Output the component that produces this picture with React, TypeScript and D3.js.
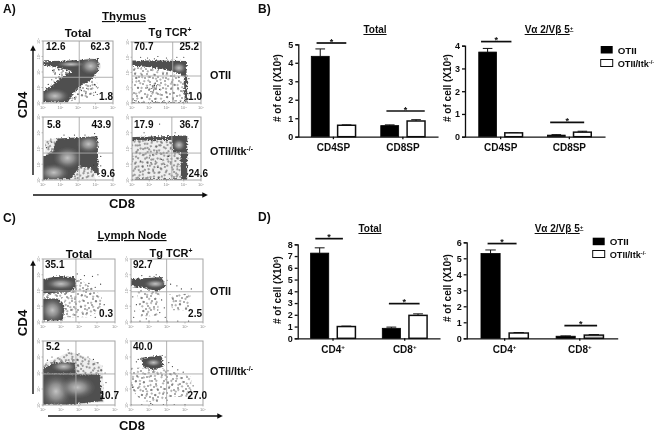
// App.tsx - flow plots and bar charts for the thymus / lymph node figure
import React, { useEffect, useRef } from 'react';
import * as d3 from 'd3';

const FONT = '"Liberation Sans", Arial, sans-serif';

type Pt = [number, number];

// bar chart values
const thymusCategories = ['CD4SP', 'CD8SP'];
const nodeCategories = ['CD4+', 'CD8+'];
const seriesNames = ['OTII', 'OTII/Itk-/-'];

const thymusTotalOtii = [4.35, 0.6];
const thymusTotalOtiiTop = [4.75, 0.64];
const thymusTotalItk = [0.62, 0.85];
const thymusTotalItkTop = [0.64, 0.92];
const thymusTotalTicks = [0, 1, 2, 3, 4, 5];
const thymusTotalSig = [5.07, 1.39];

const thymusTgOtii = [3.72, 0.07];
const thymusTgOtiiTop = [3.88, 0.09];
const thymusTgItk = [0.17, 0.2];
const thymusTgItkTop = [0.18, 0.24];
const thymusTgTicks = [0, 1, 2, 3, 4];
const thymusTgSig = [4.18, 0.63];

const nodeTotalOtii = [7.25, 0.85];
const nodeTotalOtiiTop = [7.7, 0.95];
const nodeTotalItk = [1.0, 1.95];
const nodeTotalItkTop = [1.04, 2.08];
const nodeTotalTicks = [0, 1, 2, 3, 4, 5, 6, 7, 8];
const nodeTotalSig = [8.48, 2.95];

const nodeTgOtii = [5.3, 0.13];
const nodeTgOtiiTop = [5.52, 0.15];
const nodeTgItk = [0.33, 0.2];
const nodeTgItkTop = [0.36, 0.23];
const nodeTgTicks = [0, 1, 2, 3, 4, 5, 6];
const nodeTgSig = [5.92, 0.79];

// flow plots: everything below is in decades (0-4 = 10^0..10^4), [CD8, CD4]
const decades = [0, 1, 2, 3, 4];

const a1Dense: Pt[][] = [
  [[-0.3, 2.67], [1.5, 2.75], [3.2, 2.85], [3.13, 2.03], [2.74, 1.5], [2.26, 1.18], [1.79, 0.75], [1.42, 0.05], [-0.3, 0.05], [-0.3, 0.5], [0.57, 1.18], [1.13, 1.71], [1.66, 2.07], [0.75, 2.3], [-0.3, 2.5]],
];
const a1Speckle: Pt[][] = [[[0.5, 2.3], [1.7, 2.1], [1.2, 1.7], [0.6, 1.3]], [[1.5, 0.8], [2.3, 1.2], [3.0, 1.6], [3.2, 1.0], [2.6, 0.3], [1.5, 0.1]]];
const a1Hot = [[2.72, 2.38, 0.62, 0.55], [0.68, 0.45, 0.78, 0.48], [1.6, 2.5, 0.8, 0.2]];
const a1Dots: Pt[] = [[0.9, 2.15], [1.1, 2.2], [1.35, 2.1], [0.7, 1.95], [0.95, 1.85], [1.3, 1.95], [1.5, 2.0], [2.95, 1.2], [3.05, 1.05], [2.7, 1.1], [2.5, 0.95], [2.2, 0.8], [2.0, 0.55], [1.8, 0.35], [3.0, 0.7], [3.1, 0.55], [2.9, 0.5], [0.5, 1.5], [0.3, 1.2], [0.2, 0.95], [0.55, 2.1], [2.45, 0.6], [1.6, 0.45]];

const a2Dense: Pt[][] = [
  [[-0.3, 2.78], [1.6, 2.78], [3.19, 2.75], [3.15, 1.65], [2.7, 1.93], [2.03, 2.14], [1.06, 2.35], [-0.3, 2.5]],
  [[3.0, 1.7], [3.2, 1.7], [3.2, 0.1], [3.06, 0.1]],
  [[0, 0.02], [3.2, 0.02], [3.2, 0.07], [0, 0.07]],
];
const a2Speckle: Pt[][] = [[[0, 2.4], [1.1, 2.25], [2.1, 2.05], [3.0, 1.6], [3.1, 0.1], [0, 0.1]]];
const a2Hot = [[2.72, 2.3, 0.42, 0.36]];
const a2Dots: Pt[] = [[1.2, 1.05], [1.3, 1.15], [1.15, 0.95], [1.4, 1.0], [1.25, 0.85], [1.05, 1.2], [1.35, 1.3], [1.5, 1.2], [0.9, 1.0], [1.1, 0.75], [1.6, 0.9], [1.28, 1.0], [1.18, 1.12], [1.42, 1.12], [0.5, 3.0], [1.5, 3.05], [2.0, 2.95], [2.6, 3.0], [3.0, 3.0], [0.9, 2.95], [1.3, 2.9], [3.3, 1.6], [3.35, 0.7]];

const a3Dense: Pt[][] = [
  [[0.85, 2.63], [3.1, 2.78], [3.2, 0.2], [2.74, 0.75], [2.08, 0.85], [1.6, 0.05], [-0.3, 0.05], [-0.3, 1.3], [0.57, 1.82], [0.66, 2.25]],
];
const a3Speckle: Pt[][] = [[[0.1, 2.5], [0.9, 2.7], [0.9, 1.9], [0.2, 1.2]], [[1.6, 0.9], [2.8, 0.9], [3.0, 0.05], [1.5, 0.05]]];
const a3Hot = [[2.6, 2.28, 0.66, 0.55], [0.62, 0.47, 0.85, 0.55], [1.4, 1.4, 0.8, 0.7]];
const a3Dots: Pt[] = [[0.3, 2.3], [0.5, 2.4], [0.2, 2.05], [0.45, 2.6], [1.2, 2.85], [1.8, 2.85], [2.4, 2.85], [2.95, 2.95], [3.3, 1.5], [3.3, 0.9], [3.35, 0.3], [2.9, 0.95]];

const a4Dense: Pt[][] = [
  [[-0.3, 2.72], [3.2, 2.82], [3.2, 2.55], [-0.3, 2.5]],
  [[2.3, 2.65], [3.2, 2.7], [3.2, 1.7], [2.4, 1.75]],
  [[2.8, 1.75], [3.2, 1.75], [3.2, 0.05], [2.85, 0.05]],
  [[0, 0.02], [3.2, 0.02], [3.2, 0.07], [0, 0.07]],
];
const a4Speckle: Pt[][] = [[[0, 2.6], [3.2, 2.6], [3.2, 0.05], [0, 0.05]]];
const a4Hot = [[2.72, 2.22, 0.38, 0.38]];
const a4Dots: Pt[] = [[1.0, 1.4], [1.2, 1.6], [1.35, 1.2], [0.9, 0.9], [1.1, 1.1], [1.5, 0.8], [1.7, 1.3], [0.7, 1.6], [0.5, 1.2], [1.9, 1.0], [2.1, 1.5], [1.45, 1.75], [1.6, 3.55], [2.5, 3.0], [0.7, 3.0]];

const c1Dense: Pt[][] = [
  [[-0.3, 2.68], [0.85, 2.9], [1.75, 2.85], [1.85, 2.25], [1.55, 1.9], [-0.3, 1.8]],
  [[-0.3, 1.5], [0.85, 1.5], [1.2, 0.95], [1.1, 0.1], [-0.3, 0.1]],
];
const c1Speckle: Pt[][] = [[[1.5, 2.9], [2.2, 2.6], [3.25, 1.7], [3.3, 0.8], [2.5, 0.3], [1.1, 0.3], [1.2, 1.5]], [[0, 1.9], [1.5, 1.9], [1.0, 1.45], [0, 1.45]]];
const c1Hot = [[1.0, 2.42, 0.82, 0.36], [0.52, 0.75, 0.65, 0.78]];
const c1Dots: Pt[] = [[2.3, 2.95], [2.75, 2.9], [3.05, 3.0], [2.55, 2.45], [2.1, 2.7], [2.9, 2.2], [2.4, 2.05], [1.9, 3.05], [3.2, 2.4], [3.4, 1.1], [2.9, 0.3]];

const c2Dense: Pt[][] = [[[-0.3, 2.7], [1.7, 2.85], [1.9, 2.25], [1.5, 1.95], [0.75, 2.15], [-0.3, 2.35]]];
const c2Speckle: Pt[][] = [[[0.3, 2.1], [1.6, 2.05], [1.5, 0.4], [0.55, 0.35]], [[2.1, 1.75], [3.3, 1.8], [3.3, 0.75], [2.3, 0.75]]];
const c2Hot = [[1.35, 2.42, 0.62, 0.28]];
const c2Dots: Pt[] = [[0.1, 1.6], [0.3, 1.1], [0.2, 0.7], [0.15, 0.3], [1.7, 1.4], [1.85, 0.9], [1.6, 0.6], [2.2, 2.4], [2.55, 2.3], [2.0, 2.65], [2.8, 2.1], [3.35, 2.1], [1.05, 2.9], [0.6, 2.95], [1.4, 3.0], [1.9, 0.3], [0.85, 0.2], [0, 0.05], [0.5, 0.05], [1.0, 0.05], [1.5, 0.05], [2.0, 0.05], [2.6, 0.05], [3.2, 0.05]];

const c3Dense: Pt[][] = [
  [[0.55, 2.65], [1.75, 2.65], [1.85, 1.95], [-0.3, 1.95]],
  [[-0.3, 1.95], [3.15, 1.9], [3.3, 0.25], [1.4, 0.02], [-0.3, 0.02]],
];
const c3Speckle: Pt[][] = [[[0, 2.55], [1.5, 3.35], [2.6, 2.9], [3.3, 2.45], [3.4, 0.15], [1.0, 0.05], [0, 0.05]]];
const c3Hot = [[0.72, 0.85, 0.85, 1.05], [1.15, 2.4, 0.7, 0.34], [1.9, 1.1, 1.0, 0.7]];
const c3Dots: Pt[] = [[2.0, 3.2], [1.4, 3.45], [2.5, 3.0], [3.05, 2.65], [3.45, 2.0], [3.5, 1.4], [0.25, 2.8], [0.5, 3.0], [2.8, 2.85]];

const c4Dense: Pt[][] = [[[0.55, 2.95], [1.7, 3.1], [1.8, 2.4], [1.3, 2.2], [0.7, 2.35]]];
const c4Speckle: Pt[][] = [[[0, 2.35], [1.75, 2.3], [3.35, 1.75], [3.35, 0.5], [2.2, 0.5], [1.4, 0.15], [0.6, 0.25], [0, 1.0]]];
const c4Hot = [[1.25, 2.65, 0.45, 0.25]];
const c4Dots: Pt[] = [[0.3, 2.7], [0.4, 2.85], [2.1, 2.65], [2.3, 2.4], [2.6, 2.2], [2.9, 2.05], [1.9, 3.0], [0.1, 1.1], [3.45, 1.2], [1.1, 0.1], [2.0, 0.3], [0, 0.03], [0.6, 0.03], [1.2, 0.03], [1.8, 0.03], [2.4, 0.03], [3.0, 0.03]];

// texture tile for the speckled (not quite solid) areas, hand placed so it does not read as a grid
const speckleTile: Pt[] = [
  [1, 3], [5, 1], [8, 6], [12, 2], [15, 5], [19, 1], [23, 4], [26, 8], [30, 2], [34, 6], [37, 1],
  [3, 8], [6, 12], [11, 9], [14, 13], [18, 8], [21, 11], [25, 14], [29, 10], [33, 12], [36, 9],
  [2, 15], [7, 17], [10, 14], [13, 19], [17, 16], [22, 18], [27, 17], [31, 16], [35, 19], [38, 14],
  [4, 21], [8, 23], [12, 25], [16, 21], [20, 24], [24, 22], [28, 26], [32, 21], [36, 24],
  [1, 27], [5, 29], [9, 28], [14, 30], [18, 28], [23, 31], [26, 29], [31, 30], [34, 27], [38, 30],
  [3, 34], [7, 33], [11, 36], [15, 34], [19, 37], [22, 35], [27, 34], [30, 37], [35, 35], [38, 37],
  [6, 38], [16, 38], [25, 38], [33, 38],
];

type Panel = {
  box: [number, number, number, number];
  gate: Pt;
  dense?: Pt[][];
  speckle?: Pt[][];
  heavy?: boolean;
  hot: number[][];
  dots: Pt[];
  labels: [string, number, number, string][];
};

const panels: Panel[] = [
  { box: [43, 41, 113, 103], gate: [2.07, 1.66], dense: a1Dense, speckle: a1Speckle, hot: a1Hot, dots: a1Dots,
    labels: [['12.6', 46, 50, 'start'], ['62.3', 110, 50, 'end'], ['1.8', 113, 100, 'end']] },
  { box: [132, 42, 201, 103], gate: [2.36, 1.77], dense: a2Dense, speckle: a2Speckle, hot: a2Hot, dots: a2Dots,
    labels: [['70.7', 134, 50, 'start'], ['25.2', 199, 50, 'end'], ['1.0', 202, 100, 'end']] },
  { box: [43, 117, 113, 180], gate: [2.07, 1.71], dense: a3Dense, speckle: a3Speckle, heavy: true, hot: a3Hot, dots: a3Dots,
    labels: [['5.8', 47, 128, 'start'], ['43.9', 111, 128, 'end'], ['9.6', 115, 177, 'end']] },
  { box: [132, 117, 201, 180], gate: [2.31, 1.71], dense: a4Dense, speckle: a4Speckle, heavy: true, hot: a4Hot, dots: a4Dots,
    labels: [['17.9', 134, 128, 'start'], ['36.7', 199, 128, 'end'], ['24.6', 208, 177, 'end']] },
  { box: [43, 259, 115, 322], gate: [1.83, 1.97], dense: c1Dense, speckle: c1Speckle, hot: c1Hot, dots: c1Dots,
    labels: [['35.1', 45, 268, 'start'], ['0.3', 113, 317, 'end']] },
  { box: [131, 259, 203, 322], gate: [1.98, 1.92], dense: c2Dense, speckle: c2Speckle, hot: c2Hot, dots: c2Dots,
    labels: [['92.7', 133, 268, 'start'], ['2.5', 202, 317, 'end']] },
  { box: [43, 341, 115, 405], gate: [1.83, 1.94], dense: c3Dense, speckle: c3Speckle, heavy: true, hot: c3Hot, dots: c3Dots,
    labels: [['5.2', 46, 350, 'start'], ['10.7', 119, 399, 'end']] },
  { box: [131, 341, 203, 405], gate: [1.98, 1.94], dense: c4Dense, speckle: c4Speckle, hot: c4Hot, dots: c4Dots,
    labels: [['40.0', 133, 350, 'start'], ['27.0', 207, 399, 'end']] },
];

type BarChart = {
  x0: number; x1: number; y0: number; y1: number; yMax: number;
  pad: [number, number];
  categories: string[];
  otii: number[]; otiiTop: number[]; itk: number[]; itkTop: number[];
  ticks: number[]; sig: number[]; sigSpan: number[][]; itkFill: string[];
};

const barCharts: BarChart[] = [
  { x0: 298.3, x1: 438, y0: 136.7, y1: 44.3, yMax: 5, pad: [0.363, 0.187], categories: thymusCategories,
    otii: thymusTotalOtii, otiiTop: thymusTotalOtiiTop, itk: thymusTotalItk, itkTop: thymusTotalItkTop,
    ticks: thymusTotalTicks, sig: thymusTotalSig, sigSpan: [[5.3, 35], [5.7, 44]], itkFill: ['#fff', '#fff'] },
  { x0: 465, x1: 605, y0: 136.7, y1: 45.7, yMax: 4, pad: [0.363, 0.2], categories: thymusCategories,
    otii: thymusTgOtii, otiiTop: thymusTgOtiiTop, itk: thymusTgItk, itkTop: thymusTgItkTop,
    ticks: thymusTgTicks, sig: thymusTgSig, sigSpan: [[2.3, 32.7], [2.7, 36.7]], itkFill: ['#fff', '#fff'] },
  { x0: 297.7, x1: 440, y0: 338.3, y1: 244.3, yMax: 8, pad: [0.375, 0.18], categories: nodeCategories,
    otii: nodeTotalOtii, otiiTop: nodeTotalOtiiTop, itk: nodeTotalItk, itkTop: nodeTotalItkTop,
    ticks: nodeTotalTicks, sig: nodeTotalSig, sigSpan: [[4.7, 32.3], [6.6, 37.3]], itkFill: ['#fff', '#fff'] },
  { x0: 466.7, x1: 617.7, y0: 338.3, y1: 242.3, yMax: 6, pad: [0.37, 0.19], categories: nodeCategories,
    otii: nodeTgOtii, otiiTop: nodeTgOtiiTop, itk: nodeTgItk, itkTop: nodeTgItkTop,
    ticks: nodeTgTicks, sig: nodeTgSig, sigSpan: [[6.6, 35.6], [8.3, 41]], itkFill: ['#fff', '#ccc'] },
];

// label with a trailing superscript, e.g. CD4 + or Itk -/-
function sup(sel: any, base: string, raised: string, size: number) {
  sel.append('tspan').text(base);
  sel.append('tspan').attr('dy', -size * 0.35).attr('font-size', size * 0.62).text(raised);
}

function drawPanel(root: any, p: Panel, i: number) {
  const [left, top, right, bottom] = p.box;
  const x = d3.scaleLinear().domain([0, 4]).range([left, right]);
  const y = d3.scaleLinear().domain([0, 4]).range([bottom, top]);
  const line = d3.line<Pt>().x(d => x(d[0])).y(d => y(d[1])).curve(d3.curveLinearClosed);

  const g = root.append('g');
  const clip = `panel-clip-${i}`;
  g.append('clipPath').attr('id', clip).append('rect')
    .attr('x', left).attr('y', top).attr('width', right - left).attr('height', bottom - top);
  const inner = g.append('g').attr('clip-path', `url(#${clip})`);

  // a grey wash under the heavy areas, then the speckle twice at different angles
  const speckle = p.speckle || [];
  if (p.heavy) {
    inner.selectAll('.wash').data(speckle).join('path')
      .attr('class', 'wash').attr('d', (d: Pt[]) => line(d)).attr('fill', '#bdbdbd').attr('opacity', 0.25);
  }
  ['speckle-a', 'speckle-b'].forEach(id => {
    inner.selectAll(`.${id}`).data(speckle).join('path')
      .attr('class', id).attr('d', (d: Pt[]) => line(d)).attr('fill', `url(#${id}${p.heavy ? '-heavy' : ''})`);
  });
  inner.selectAll('.dense').data(p.dense || []).join('path')
    .attr('class', 'dense').attr('d', (d: Pt[]) => line(d)).attr('fill', '#505050').attr('filter', 'url(#rough)');
  inner.selectAll('.hot').data(p.hot).join('ellipse')
    .attr('class', 'hot')
    .attr('cx', (d: number[]) => x(d[0])).attr('cy', (d: number[]) => y(d[1]))
    .attr('rx', (d: number[]) => x(d[2]) - x(0)).attr('ry', (d: number[]) => y(0) - y(d[3]))
    .attr('fill', 'url(#hot)');
  inner.selectAll('.dot').data(p.dots).join('circle')
    .attr('class', 'dot')
    .attr('cx', (d: Pt) => x(d[0])).attr('cy', (d: Pt) => y(d[1]))
    .attr('r', 0.6).attr('fill', '#333');

  // quadrant gates and frame
  g.append('line').attr('x1', x(p.gate[0])).attr('x2', x(p.gate[0])).attr('y1', top).attr('y2', bottom)
    .attr('stroke', '#a8a8a8').attr('stroke-width', 0.9);
  g.append('line').attr('x1', left).attr('x2', right).attr('y1', y(p.gate[1])).attr('y2', y(p.gate[1]))
    .attr('stroke', '#a8a8a8').attr('stroke-width', 0.9);
  g.append('rect').attr('x', left).attr('y', top).attr('width', right - left).attr('height', bottom - top)
    .attr('fill', 'none').attr('stroke', '#a3a3a3').attr('stroke-width', 1);

  // log decades on both sides
  const tiny = g.append('g').attr('fill', '#8c8c8c').attr('font-size', 4).attr('font-family', FONT);
  decades.forEach(d => {
    g.append('line').attr('x1', x(d)).attr('x2', x(d)).attr('y1', bottom).attr('y2', bottom + 1.5).attr('stroke', '#999').attr('stroke-width', 0.6);
    g.append('line').attr('x1', left - 1.5).attr('x2', left).attr('y1', y(d)).attr('y2', y(d)).attr('stroke', '#999').attr('stroke-width', 0.6);
    sup(tiny.append('text').attr('x', x(d)).attr('y', bottom + 6).attr('text-anchor', 'middle'), '10', String(d), 4);
    sup(tiny.append('text').attr('transform', `translate(${left - 3},${y(d)}) rotate(-90)`).attr('text-anchor', 'middle'), '10', String(d), 4);
  });

  g.selectAll('.pct').data(p.labels).join('text')
    .attr('class', 'pct')
    .attr('x', (d: any) => d[1]).attr('y', (d: any) => d[2]).attr('text-anchor', (d: any) => d[3])
    .attr('font-size', 10).attr('font-weight', 700).attr('font-family', FONT).attr('fill', '#111')
    .text((d: any) => d[0]);
}

function drawBars(root: any, c: BarChart) {
  const x = d3.scaleBand<string>().domain(c.categories).range([c.x0, c.x1])
    .paddingInner(c.pad[0]).paddingOuter(c.pad[1]);
  const inner = d3.scaleBand<string>().domain(seriesNames).range([0, x.bandwidth()]).paddingInner(0.32);
  const y = d3.scaleLinear().domain([0, c.yMax]).range([c.y0, c.y1]);
  const g = root.append('g');

  c.categories.forEach((cat, i) => {
    const bx0 = x(cat)! + inner(seriesNames[0])!;
    const bx1 = x(cat)! + inner(seriesNames[1])!;
    const w = inner.bandwidth();
    const whisker = (cx: number, a: number, b: number) => {
      g.append('line').attr('x1', cx).attr('x2', cx).attr('y1', y(a)).attr('y2', y(b)).attr('stroke', '#111').attr('stroke-width', 1);
      g.append('line').attr('x1', cx - w * 0.27).attr('x2', cx + w * 0.27).attr('y1', y(b)).attr('y2', y(b)).attr('stroke', '#111').attr('stroke-width', 1);
    };
    whisker(bx0 + w / 2, c.otii[i], c.otiiTop[i]);
    whisker(bx1 + w / 2, c.itk[i], c.itkTop[i]);
    g.append('rect').attr('x', bx0).attr('y', y(c.otii[i])).attr('width', w).attr('height', c.y0 - y(c.otii[i]))
      .attr('fill', '#000').attr('stroke', '#000').attr('stroke-width', 0.8);
    g.append('rect').attr('x', bx1).attr('y', y(c.itk[i])).attr('width', w).attr('height', c.y0 - y(c.itk[i]))
      .attr('fill', c.itkFill[i]).attr('stroke', '#111').attr('stroke-width', 1.5);

    // significance bar spans the pair, star sits on it
    const sx0 = x(cat)! + c.sigSpan[i][0];
    const sx1 = x(cat)! + c.sigSpan[i][1];
    g.append('line').attr('x1', sx0).attr('x2', sx1).attr('y1', y(c.sig[i])).attr('y2', y(c.sig[i]))
      .attr('stroke', '#111').attr('stroke-width', 1.7);
    g.append('text').attr('x', (sx0 + sx1) / 2).attr('y', y(c.sig[i]) + 1.5).attr('text-anchor', 'middle')
      .attr('font-size', 9).attr('font-weight', 700).attr('font-family', FONT).attr('fill', '#111').text('*');
  });

  const yAxis = g.append('g').attr('transform', `translate(${c.x0},0)`)
    .call(d3.axisLeft(y).tickValues(c.ticks).tickSize(3).tickPadding(2).tickFormat(d3.format('d') as any));
  const xAxis = g.append('g').attr('transform', `translate(0,${c.y0})`)
    .call(d3.axisBottom(x).tickSize(2.5).tickSizeOuter(0).tickPadding(5).tickFormat(() => ''));
  [yAxis, xAxis].forEach(a => {
    a.selectAll('path, line').attr('stroke', '#111').attr('stroke-width', 1.3);
  });
  yAxis.selectAll('text').attr('font-size', 9).attr('font-weight', 700).attr('font-family', FONT).attr('fill', '#111');

  xAxis.selectAll('.tick text').each(function (this: any, d: any) {
    const t = d3.select(this).attr('font-size', 10).attr('font-weight', 700).attr('font-family', FONT).attr('fill', '#111');
    if (String(d).endsWith('+')) sup(t, String(d).slice(0, -1), '+', 10);
    else t.text(String(d));
  });
}

function title(root: any, text: string, x: number, y: number, size: number, underline = true) {
  return root.append('text').attr('x', x).attr('y', y).attr('text-anchor', 'middle')
    .attr('font-size', size).attr('font-weight', 700).attr('font-family', FONT).attr('fill', '#111')
    .attr('text-decoration', underline ? 'underline' : 'none').text(text);
}

function plain(root: any, x: number, y: number, size: number, anchor = 'start') {
  return root.append('text').attr('x', x).attr('y', y).attr('text-anchor', anchor)
    .attr('font-size', size).attr('font-weight', 700).attr('font-family', FONT).attr('fill', '#111');
}

function rotated(root: any, text: string, x: number, y: number, size: number) {
  return root.append('text').attr('transform', `translate(${x},${y}) rotate(-90)`).attr('text-anchor', 'middle')
    .attr('font-size', size).attr('font-weight', 700).attr('font-family', FONT).attr('fill', '#111').text(text);
}

function arrow(root: any, x1: number, y1: number, x2: number, y2: number) {
  root.append('line').attr('x1', x1).attr('y1', y1).attr('x2', x2).attr('y2', y2)
    .attr('stroke', '#111').attr('stroke-width', 1.4).attr('marker-end', 'url(#head)');
}

function legend(root: any, x: number, yTop: number, yBottom: number) {
  root.append('rect').attr('x', x).attr('y', yTop).attr('width', 12).attr('height', 7.5).attr('fill', '#000');
  root.append('rect').attr('x', x).attr('y', yBottom).attr('width', 12).attr('height', 7).attr('fill', '#fff').attr('stroke', '#111').attr('stroke-width', 1);
  plain(root, x + 17, yTop + 7.5, 9.8).text(seriesNames[0]);
  sup(plain(root, x + 17, yBottom + 7.5, 9.2), 'OTII/Itk', '-/-', 9.2);
}

function vaLabel(root: any, x: number, y: number, size: number) {
  const t = root.append('text').attr('x', x).attr('y', y).attr('text-anchor', 'middle')
    .attr('font-size', size).attr('font-weight', 700).attr('font-family', FONT).attr('fill', '#111')
    .attr('text-decoration', 'underline');
  t.append('tspan').text('V\u03b1 2/V\u03b2 5');
  t.append('tspan').attr('dy', -3).attr('font-size', size * 0.62).text('+');
}

function drawAll(svgEl: SVGSVGElement) {
  const root = d3.select(svgEl);
  root.selectAll('*').remove();

  const defs = root.append('defs');
  // grainy edge for the solid cell clouds; page-wide region so thin strips survive
  const rough = defs.append('filter').attr('id', 'rough').attr('filterUnits', 'userSpaceOnUse')
    .attr('x', 0).attr('y', 0).attr('width', 662).attr('height', 434)
    .attr('color-interpolation-filters', 'sRGB');
  rough.append('feTurbulence').attr('type', 'fractalNoise').attr('baseFrequency', 0.55).attr('numOctaves', 2).attr('seed', 4).attr('result', 'grain');
  rough.append('feDisplacementMap').attr('in', 'SourceGraphic').attr('in2', 'grain').attr('scale', 4.5)
    .attr('xChannelSelector', 'R').attr('yChannelSelector', 'G').attr('result', 'moved');
  rough.append('feGaussianBlur').attr('in', 'moved').attr('stdDeviation', 0.35);
  const blur = defs.append('filter').attr('id', 'photo').attr('x', 0).attr('y', 0).attr('width', '100%').attr('height', '100%');
  blur.append('feGaussianBlur').attr('stdDeviation', 0.45);

  const hot = defs.append('radialGradient').attr('id', 'hot');
  hot.append('stop').attr('offset', '0%').attr('stop-color', '#c4c4c4');
  hot.append('stop').attr('offset', '45%').attr('stop-color', '#9c9c9c').attr('stop-opacity', 0.8);
  hot.append('stop').attr('offset', '100%').attr('stop-color', '#6a6a6a').attr('stop-opacity', 0);

  const patterns: [string, number, string, string][] = [
    ['speckle-a', 0.72, '#333', 'rotate(0)'],
    ['speckle-b', 0.68, '#333', 'rotate(37) translate(11,6)'],
    ['speckle-a-heavy', 0.82, '#333', 'rotate(12)'],
    ['speckle-b-heavy', 0.82, '#333', 'rotate(61) translate(7,13)'],
  ];
  patterns.forEach(([id, r, fill, turn]) => {
    const pat = defs.append('pattern').attr('id', id).attr('patternUnits', 'userSpaceOnUse')
      .attr('width', 40).attr('height', 40).attr('patternTransform', turn);
    pat.selectAll('circle').data(speckleTile).join('circle')
      .attr('cx', d => d[0]).attr('cy', d => d[1]).attr('r', r).attr('fill', fill);
  });

  defs.append('marker').attr('id', 'head').attr('viewBox', '0 0 6 6').attr('refX', 4).attr('refY', 3)
    .attr('markerWidth', 4).attr('markerHeight', 4).attr('orient', 'auto')
    .append('path').attr('d', 'M0,0L6,3L0,6Z').attr('fill', '#111');

  root.append('rect').attr('width', 662).attr('height', 434).attr('fill', '#fff');
  const page = root.append('g').attr('filter', 'url(#photo)');

  panels.forEach((p, i) => drawPanel(page, p, i));
  barCharts.forEach(c => drawBars(page, c));

  // panel letters
  plain(page, 3, 13, 12).text('A)');
  plain(page, 258, 13, 12).text('B)');
  plain(page, 3, 222, 12).text('C)');
  plain(page, 258, 221, 12).text('D)');

  // flow plot captions
  title(page, 'Thymus', 124, 20, 11.5);
  title(page, 'Total', 78, 37, 11.5, false);
  sup(title(page, '', 170, 36, 11, false), 'Tg TCR', '+', 11);
  title(page, 'Lymph Node', 132, 239, 11.5);
  title(page, 'Total', 79, 258, 11.5, false);
  sup(title(page, '', 171, 257, 11, false), 'Tg TCR', '+', 11);

  plain(page, 210, 79, 10.8).text('OTII');
  sup(plain(page, 210, 155, 10.8), 'OTII/Itk', '-/-', 10.8);
  plain(page, 210, 295, 10.8).text('OTII');
  sup(plain(page, 210, 375, 10.8), 'OTII/Itk', '-/-', 10.8);

  rotated(page, 'CD4', 27, 105, 13.3);
  rotated(page, 'CD4', 27, 323, 13.3);
  title(page, 'CD8', 122, 208, 13, false);
  title(page, 'CD8', 132, 430, 13, false);
  arrow(page, 33, 175, 33, 47);
  arrow(page, 33, 195, 206, 195);
  arrow(page, 33, 394, 33, 262);
  arrow(page, 48, 416, 221, 416);

  // bar chart captions
  title(page, 'Total', 375, 33, 10);
  vaLabel(page, 549, 33, 10);
  title(page, 'Total', 370, 232, 10);
  vaLabel(page, 559, 232, 10);

  [[281, 88], [451, 88], [281, 290], [451, 288]].forEach(([lx, ly]) => {
    const t = rotated(page, '', lx, ly, 10);
    t.append('tspan').text('# of cell (X10');
    t.append('tspan').attr('dy', -3.4).attr('font-size', 6.2).text('6');
    t.append('tspan').attr('dy', 3.4).text(')');
  });

  legend(page, 600.7, 46, 59.5);
  legend(page, 592.7, 237.7, 250.5);
}

const App = () => {
  const svgRef = useRef<SVGSVGElement>(null);

  useEffect(() => {
    if (svgRef.current) drawAll(svgRef.current);
  }, []);

  return (
    <svg
      ref={svgRef}
      width={662}
      height={434}
      style={{ position: 'absolute', left: 0, top: 0, display: 'block' }}
    />
  );
};

export default App;
